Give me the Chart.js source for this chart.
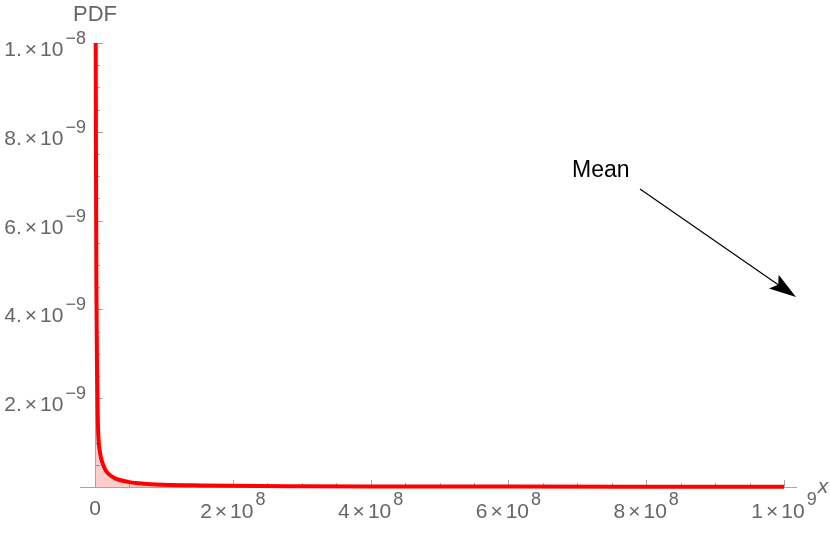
<!DOCTYPE html>
<html>
<head>
<meta charset="utf-8">
<script src="https://cdn.jsdelivr.net/npm/chart.js@4/dist/chart.umd.min.js"></script>
<style>
  html, body { margin: 0; padding: 0; background: #fff; }
  #wrap { width: 830px; height: 533px; }
</style>
</head>
<body>
<div id="wrap"><canvas id="pdf_chart"></canvas></div>
<script>
// values
const xValues = [1.0e6, 1.5e6, 2.0e6, 3.0e6, 4.0e6, 5.0e6, 7.0e6, 1.0e7, 1.5e7, 2.0e7, 3.0e7,
                 5.0e7, 7.0e7, 1.0e8, 1.5e8, 2.0e8, 3.0e8, 4.0e8, 6.0e8, 8.0e8, 1.0e9];
const pdfValues = [1.0e-8, 7.0e-9, 4.5e-9, 2.6e-9, 1.6e-9, 1.1e-9, 8.0e-10, 5.8e-10, 3.9e-10, 2.9e-10, 1.9e-10,
                   1.1e-10, 7.5e-11, 5.2e-11, 3.5e-11, 2.6e-11, 1.8e-11, 1.3e-11, 9.0e-12, 7.0e-12, 5.5e-12];
// tick labels: mantissa and power of ten
const xMajorTicks = [0, 2e8, 4e8, 6e8, 8e8, 1e9];
const xTickMantissas = ['0', '2', '4', '6', '8', '1'];
const xTickExponents = ['', '8', '8', '8', '8', '9'];
const yMajorTicks = [2e-9, 4e-9, 6e-9, 8e-9, 1e-8];
const yTickMantissas = ['2.', '4.', '6.', '8.', '1.'];
const yTickExponents = ['−9', '−9', '−9', '−9', '−8'];
const xMinorStep = 5e7;
const yMinorStep = 5e-10;

const axisGray = '#a6a6a6';
const labelGray = '#666666';
const fontFamily = '"Liberation Sans", Arial, "DejaVu Sans", sans-serif';
const baseFont = '21px ' + fontFamily;
const supFont = '18px ' + fontFamily;

// index of the major tick for a value, -1 for minor ticks
function majorIndex(value, majors) {
    const step = Math.abs(majors[1] - majors[0]);
    return majors.findIndex(m => Math.abs(m - value) < step * 1e-6);
}

function minorTicks(max, step) {
    let ticks = [];
    for (let i = 0; i * step <= max * (1 + 1e-9); i++) {
        ticks.push({ value: i * step });
    }
    return ticks;
}

// draws "m×10^e", anchored at x (right edge or centre)
function drawPowerLabel(ctx, mant, exp, x, baseY, supY, align) {
    ctx.font = baseFont;
    if (!exp) {
        ctx.textAlign = align;
        ctx.fillText(mant, x, baseY);
        return;
    }
    const wM = ctx.measureText(mant).width;
    const wX = ctx.measureText('×').width;
    const wT = ctx.measureText('10').width;
    ctx.font = supFont;
    const wE = ctx.measureText(exp).width;
    const g1 = 3, g2 = 3, g3 = 2;
    const total = wM + g1 + wX + g2 + wT + g3 + wE;
    let px = align === 'right' ? x - total : x - total / 2;
    ctx.textAlign = 'left';
    ctx.font = baseFont;
    ctx.fillText(mant, px, baseY);
    px += wM + g1;
    ctx.fillText('×', px, baseY);
    px += wX + g2;
    ctx.fillText('10', px, baseY);
    px += wT + g3;
    ctx.font = supFont;
    ctx.fillText(exp, px, supY);
}

// ticks inside the plot, extended x axis, labels and the Mean arrow
const decorPlugin = {
    id: 'decor',
    beforeDatasetsDraw(chart) {
        const ctx = chart.ctx;
        const xs = chart.scales.x;
        const ys = chart.scales.y;
        const y0 = ys.getPixelForValue(0);
        const x0 = xs.getPixelForValue(0);
        ctx.save();
        ctx.strokeStyle = axisGray;
        ctx.lineWidth = 1;
        ctx.beginPath();
        ctx.moveTo(x0 - 15, y0 + 0.5);
        ctx.lineTo(xs.right + 13, y0 + 0.5);
        xs.ticks.forEach(t => {
            if (t.value === 0) return;
            const px = Math.round(xs.getPixelForValue(t.value)) + 0.5;
            const len = majorIndex(t.value, xMajorTicks) >= 0 ? 7 : 4;
            ctx.moveTo(px, y0);
            ctx.lineTo(px, y0 - len);
        });
        ys.ticks.forEach(t => {
            if (t.value === 0) return;
            const py = Math.round(ys.getPixelForValue(t.value)) + 0.5;
            const len = majorIndex(t.value, yMajorTicks) >= 0 ? 8 : 5;
            ctx.moveTo(x0, py);
            ctx.lineTo(x0 + len, py);
        });
        ctx.stroke();
        ctx.restore();
    },
    afterDraw(chart) {
        const ctx = chart.ctx;
        const xs = chart.scales.x;
        const ys = chart.scales.y;
        const y0 = ys.getPixelForValue(0);
        const x0 = xs.getPixelForValue(0);
        ctx.save();
        ctx.fillStyle = labelGray;
        ctx.textBaseline = 'alphabetic';
        // tick labels at the scale's positions
        xs.ticks.forEach(t => {
            const ind = majorIndex(t.value, xMajorTicks);
            if (ind < 0) return;
            const px = xs.getPixelForValue(t.value);
            const exp = xTickExponents[ind];
            drawPowerLabel(ctx, xTickMantissas[ind], exp, px, exp ? y0 + 31 : y0 + 28, y0 + 18, 'center');
        });
        ys.ticks.forEach(t => {
            const ind = majorIndex(t.value, yMajorTicks);
            if (ind < 0) return;
            const py = ys.getPixelForValue(t.value);
            drawPowerLabel(ctx, yTickMantissas[ind], yTickExponents[ind], x0 - 9, py + 13, py + 1, 'right');
        });
        // axis names
        ctx.font = '22px ' + fontFamily;
        ctx.textAlign = 'center';
        ctx.fillText('PDF', x0, 21);
        ctx.font = 'italic 21px ' + fontFamily;
        ctx.fillText('x', xs.right + 39, y0 + 6);
        // Mean annotation
        ctx.fillStyle = '#000';
        ctx.font = '23px ' + fontFamily;
        ctx.textAlign = 'left';
        ctx.fillText('Mean', 572, 177);
        const sx = 640, sy = 189, tx = 796, ty = 297;
        const dx = tx - sx, dy = ty - sy;
        const len = Math.hypot(dx, dy);
        const ux = dx / len, uy = dy / len;
        const head = 27, half = 8.5;
        ctx.strokeStyle = '#000';
        ctx.lineWidth = 1.2;
        ctx.beginPath();
        ctx.moveTo(sx, sy);
        ctx.lineTo(tx - ux * head * 0.8, ty - uy * head * 0.8);
        ctx.stroke();
        ctx.beginPath();
        ctx.moveTo(tx, ty);
        ctx.lineTo(tx - ux * head - uy * half, ty - uy * head + ux * half);
        ctx.lineTo(tx - ux * head * 0.8, ty - uy * head * 0.8);
        ctx.lineTo(tx - ux * head + uy * half, ty - uy * head - ux * half);
        ctx.closePath();
        ctx.fill();
        ctx.restore();
    }
};

new Chart(document.getElementById('pdf_chart'), {
    type: 'line',
    data: {
        datasets: [{
            label: 'PDF',
            data: xValues.map((x, i) => ({ x: x, y: pdfValues[i] })),
            borderColor: '#ff0000',
            borderWidth: 4,
            backgroundColor: 'rgba(255, 0, 0, 0.2)',
            fill: 'origin',
            pointRadius: 0,
            cubicInterpolationMode: 'monotone',
            clip: 4
        }]
    },
    options: {
        responsive: true,
        maintainAspectRatio: false,
        animation: false,
        layout: { padding: { top: 43, right: 46, left: 0, bottom: 0 } },
        plugins: {
            legend: { display: false },
            tooltip: { enabled: false }
        },
        scales: {
            x: {
                type: 'linear',
                min: 0,
                max: 1e9,
                afterBuildTicks: axis => { axis.ticks = minorTicks(1e9, xMinorStep); },
                afterFit: axis => { axis.height = 46; },
                grid: { display: false, drawTicks: false },
                border: { display: true, color: axisGray },
                ticks: { display: false }
            },
            y: {
                type: 'linear',
                min: 0,
                max: 1e-8,
                afterBuildTicks: axis => { axis.ticks = minorTicks(1e-8, yMinorStep); },
                afterFit: axis => { axis.width = 95; },
                grid: { display: false, drawTicks: false },
                border: { display: true, color: axisGray },
                ticks: { display: false }
            }
        }
    },
    plugins: [decorPlugin]
});
</script>
</body>
</html>
